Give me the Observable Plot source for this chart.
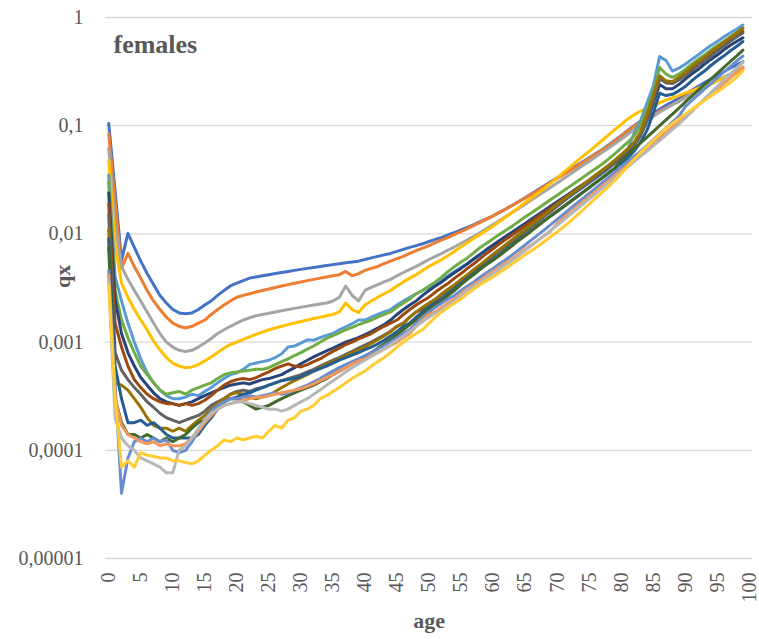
<!DOCTYPE html>
<html>
<head>
<meta charset="utf-8">
<script src="https://cdn.jsdelivr.net/npm/d3@7"></script>
<script src="https://cdn.jsdelivr.net/npm/@observablehq/plot@0.6"></script>
<style>
  html, body { margin: 0; padding: 0; background: #ffffff; }
  #chart { width: 759px; height: 639px; }
</style>
</head>
<body>
<div id="chart"></div>
<script>
// ---- data: qx by age (0..99) for 16 female life tables ----
const ages = d3.range(0, 100);

const seriesNames = ["series 1","series 2","series 3","series 4","series 5","series 6","series 7","series 8",
  "series 9","series 10","series 11","series 12","series 13","series 14","series 15","series 16"];

const seriesColors = ["#4472C4","#ED7D31","#A5A5A5","#FFC000","#5B9BD5","#70AD47","#264478","#9E480E",
  "#636363","#997300","#255E91","#43682B","#698ED0","#F1975A","#B7B7B7","#FFCD33"];

const s01 = [0.105,0.025,0.0057,0.0101,0.0075,0.0056,0.0043,0.0034,0.0027,0.0023,
  0.002,0.00186,0.00183,0.00186,0.002,0.0022,0.0024,0.0027,0.003,0.0033,
  0.0035,0.0037,0.0039,0.004,0.0041,0.0042,0.0043,0.0044,0.0045,0.0046,
  0.0047,0.0048,0.0049,0.005,0.0051,0.0052,0.0053,0.0054,0.0055,0.0056,
  0.0058,0.006,0.0062,0.0064,0.0066,0.0069,0.0072,0.0075,0.0078,0.0081,
  0.0085,0.0089,0.0093,0.0098,0.0103,0.0109,0.0115,0.0122,0.013,0.0138,
  0.0147,0.0158,0.017,0.0184,0.0199,0.0216,0.0235,0.0256,0.0279,0.0304,
  0.0331,0.036,0.0392,0.0427,0.0465,0.0506,0.055,0.06,0.066,0.073,
  0.081,0.09,0.1,0.11,0.12,0.131,0.142,0.154,0.166,0.178,
  0.195,0.212,0.23,0.25,0.27,0.292,0.315,0.34,0.365,0.39];

const s02 = [0.085,0.02,0.0048,0.0066,0.005,0.0039,0.003,0.0024,0.002,0.0017,
  0.0015,0.0014,0.00135,0.0014,0.0015,0.0016,0.0018,0.002,0.0022,0.0024,
  0.0026,0.0027,0.0028,0.0029,0.003,0.0031,0.0032,0.0033,0.0034,0.0035,
  0.0036,0.0037,0.0038,0.0039,0.004,0.0041,0.0042,0.0045,0.0041,0.0043,
  0.0046,0.0048,0.005,0.0053,0.0056,0.0059,0.0062,0.0066,0.007,0.0074,
  0.0078,0.0083,0.0088,0.0093,0.0099,0.0105,0.0112,0.012,0.0128,0.0137,
  0.0147,0.0158,0.017,0.0183,0.0198,0.0214,0.0232,0.0252,0.0274,0.0298,
  0.0325,0.0354,0.0386,0.042,0.0458,0.05,0.0546,0.0597,0.065,0.072,
  0.08,0.089,0.099,0.108,0.117,0.126,0.136,0.146,0.157,0.168,
  0.185,0.198,0.212,0.227,0.243,0.26,0.278,0.297,0.317,0.34];

const s03 = [0.062,0.012,0.005,0.0038,0.003,0.0024,0.0019,0.0015,0.0012,0.001,
  0.0009,0.00084,0.00082,0.00084,0.0009,0.00098,0.00108,0.0012,0.0013,0.0014,
  0.0015,0.0016,0.00168,0.00175,0.0018,0.00185,0.0019,0.00195,0.002,0.00205,
  0.0021,0.00215,0.0022,0.00225,0.0023,0.0024,0.0026,0.0033,0.0027,0.0024,
  0.003,0.0032,0.0034,0.0036,0.0038,0.0041,0.0044,0.0047,0.005,0.0054,
  0.0058,0.0062,0.0066,0.0071,0.0076,0.0082,0.0088,0.0095,0.0103,0.0112,
  0.0122,0.0133,0.0145,0.0158,0.0172,0.0188,0.0206,0.0225,0.0246,0.027,
  0.0296,0.0324,0.0355,0.039,0.0428,0.047,0.0515,0.0565,0.062,0.068,
  0.075,0.083,0.092,0.102,0.112,0.122,0.133,0.144,0.156,0.168,
  0.181,0.195,0.21,0.226,0.243,0.261,0.28,0.3,0.322,0.345];

const s04 = [0.048,0.008,0.0035,0.0026,0.002,0.0016,0.0013,0.00102,0.00085,0.00072,
  0.00064,0.0006,0.00058,0.00059,0.00062,0.00067,0.00073,0.0008,0.00088,0.00095,
  0.001,0.00106,0.00112,0.00118,0.00124,0.0013,0.00135,0.0014,0.00145,0.0015,
  0.00155,0.0016,0.00165,0.0017,0.00175,0.0018,0.0019,0.0023,0.002,0.00188,
  0.0022,0.0024,0.0026,0.0028,0.003,0.0033,0.0036,0.0039,0.0042,0.0046,
  0.005,0.0054,0.0058,0.0063,0.0069,0.0076,0.0083,0.0091,0.0099,0.0108,
  0.0118,0.013,0.0143,0.0158,0.0175,0.0194,0.0215,0.0238,0.0263,0.0295,
  0.033,0.037,0.0415,0.0465,0.052,0.058,0.065,0.073,0.082,0.092,
  0.103,0.115,0.126,0.136,0.145,0.154,0.163,0.172,0.181,0.19,
  0.2,0.21,0.221,0.233,0.246,0.26,0.275,0.29,0.306,0.33];

const s05 = [0.035,0.004,0.0024,0.0015,0.001,0.0007,0.00052,0.00042,0.00036,0.00032,
  0.0003,0.0003,0.00031,0.00033,0.00032,0.00035,0.00038,0.00042,0.00046,0.0005,
  0.00052,0.00056,0.00062,0.00064,0.00066,0.00068,0.00072,0.00078,0.0009,0.00092,
  0.00098,0.00105,0.00104,0.0011,0.00115,0.0012,0.0013,0.00138,0.00148,0.0016,
  0.0016,0.0017,0.0018,0.0019,0.002,0.0022,0.0024,0.0026,0.0028,0.003,
  0.0032,0.0035,0.0038,0.0041,0.0045,0.0049,0.0053,0.0058,0.0063,0.0069,
  0.0075,0.0082,0.009,0.0098,0.0107,0.0117,0.0128,0.014,0.0153,0.0168,
  0.0184,0.0202,0.0222,0.0244,0.0268,0.0295,0.0325,0.036,0.04,0.045,
  0.052,0.06,0.085,0.11,0.16,0.23,0.435,0.4,0.32,0.34,
  0.37,0.41,0.45,0.5,0.55,0.6,0.66,0.72,0.78,0.85];

const s06 = [0.03,0.003,0.0016,0.0011,0.0008,0.0006,0.0005,0.00042,0.00036,0.00033,
  0.00034,0.00035,0.00033,0.00036,0.00038,0.0004,0.00042,0.00046,0.0005,0.00052,
  0.00053,0.00054,0.00055,0.00056,0.00056,0.00058,0.00062,0.00066,0.0007,0.00075,
  0.0008,0.00086,0.00092,0.001,0.00108,0.00115,0.00122,0.0013,0.00137,0.00145,
  0.00152,0.0016,0.0017,0.0018,0.0019,0.0021,0.0023,0.0025,0.0028,0.003,
  0.0033,0.0036,0.004,0.0045,0.005,0.0055,0.006,0.0067,0.0075,0.0082,
  0.009,0.0099,0.0108,0.0118,0.013,0.0143,0.0157,0.0172,0.0189,0.0208,
  0.0228,0.025,0.0275,0.0302,0.0332,0.0365,0.04,0.044,0.049,0.055,
  0.062,0.07,0.08,0.1,0.14,0.2,0.345,0.3,0.28,0.3,
  0.33,0.37,0.41,0.45,0.5,0.55,0.6,0.66,0.72,0.78];

const s07 = [0.024,0.0025,0.0012,0.0008,0.0006,0.00047,0.0004,0.00034,0.0003,0.00028,
  0.00027,0.00026,0.00027,0.00028,0.0003,0.00032,0.00034,0.00036,0.00038,0.0004,
  0.00041,0.00042,0.00041,0.00043,0.00045,0.00046,0.00048,0.0005,0.00054,0.00058,
  0.00063,0.00068,0.00073,0.00078,0.00083,0.00088,0.00094,0.001,0.00105,0.0011,
  0.00117,0.00125,0.00135,0.00145,0.0016,0.0018,0.002,0.0022,0.0024,0.0027,
  0.003,0.0033,0.0036,0.004,0.0044,0.0048,0.0053,0.0059,0.0065,0.0072,
  0.0079,0.0087,0.0095,0.0104,0.0114,0.0125,0.0137,0.015,0.0165,0.0181,
  0.0198,0.0217,0.0238,0.0261,0.0286,0.0314,0.0345,0.038,0.042,0.047,
  0.053,0.06,0.069,0.083,0.11,0.16,0.24,0.22,0.22,0.24,
  0.27,0.3,0.33,0.37,0.41,0.45,0.5,0.55,0.6,0.65];

const s08 = [0.019,0.0015,0.0009,0.0006,0.00045,0.00038,0.00033,0.0003,0.00028,0.00027,
  0.00027,0.00026,0.00027,0.00026,0.00027,0.00029,0.00032,0.00036,0.0004,0.00043,
  0.00045,0.00046,0.00045,0.00047,0.0005,0.00053,0.00057,0.0006,0.00063,0.0006,
  0.00059,0.00062,0.00066,0.0007,0.00076,0.00082,0.00088,0.00095,0.001,0.00107,
  0.00113,0.0012,0.0013,0.0014,0.0015,0.0016,0.0018,0.002,0.0022,0.0024,
  0.0026,0.0029,0.0032,0.0035,0.0039,0.0043,0.0048,0.0053,0.0059,0.0066,
  0.0073,0.0081,0.0089,0.0098,0.0108,0.0119,0.0131,0.0144,0.0158,0.0174,
  0.0191,0.021,0.0231,0.0254,0.0279,0.0307,0.0338,0.0372,0.041,0.046,
  0.052,0.059,0.068,0.085,0.12,0.18,0.28,0.25,0.25,0.27,
  0.3,0.33,0.37,0.41,0.45,0.5,0.55,0.61,0.67,0.74];

const s09 = [0.015,0.0008,0.00055,0.00045,0.00038,0.00033,0.00028,0.00025,0.00022,0.0002,
  0.00019,0.00018,0.00019,0.0002,0.00021,0.00023,0.00026,0.00028,0.0003,0.00033,
  0.00035,0.00036,0.00035,0.00037,0.00038,0.0004,0.00042,0.00044,0.00046,0.00048,
  0.0005,0.00053,0.00056,0.0006,0.00064,0.00068,0.00072,0.00077,0.00082,0.00088,
  0.00094,0.001,0.00108,0.00116,0.00126,0.0014,0.0015,0.0017,0.0019,0.002,
  0.0022,0.0024,0.0027,0.003,0.0033,0.0037,0.0041,0.0045,0.005,0.0056,
  0.0062,0.0069,0.0076,0.0084,0.0094,0.0105,0.0117,0.013,0.0145,0.0161,
  0.018,0.02,0.0222,0.0246,0.0272,0.03,0.0332,0.0367,0.0405,0.045,
  0.05,0.056,0.065,0.08,0.11,0.17,0.27,0.25,0.245,0.265,
  0.29,0.32,0.36,0.4,0.44,0.49,0.54,0.6,0.66,0.72];

const s10 = [0.011,0.00042,0.0004,0.00036,0.0003,0.00025,0.0002,0.00017,0.00016,0.00016,
  0.00015,0.00016,0.00015,0.00017,0.00019,0.00021,0.00024,0.00027,0.0003,0.00033,
  0.00034,0.00033,0.00031,0.0003,0.00031,0.00032,0.00035,0.00038,0.00041,0.00044,
  0.00047,0.0005,0.00054,0.00058,0.00062,0.00066,0.0007,0.00075,0.0008,0.00085,
  0.0009,0.00097,0.00105,0.00114,0.00125,0.0014,0.0015,0.0017,0.0019,0.0021,
  0.0023,0.0025,0.0028,0.0031,0.0034,0.0038,0.0042,0.0047,0.0052,0.0058,
  0.0065,0.0072,0.008,0.0089,0.0099,0.011,0.0122,0.0135,0.015,0.0167,
  0.019,0.0208,0.0231,0.0256,0.0284,0.0315,0.035,0.0388,0.043,0.048,
  0.054,0.061,0.07,0.087,0.125,0.19,0.29,0.26,0.255,0.28,
  0.31,0.35,0.39,0.43,0.48,0.53,0.59,0.65,0.72,0.8];

const s11 = [0.009,0.0006,0.0003,0.00018,0.00018,0.00019,0.00017,0.00018,0.00016,0.00014,
  0.00013,0.00013,0.00013,0.00013,0.00014,0.00017,0.0002,0.00024,0.00028,0.0003,
  0.00031,0.00033,0.00034,0.00036,0.00038,0.0004,0.00042,0.00044,0.00045,0.00046,
  0.00048,0.00051,0.00054,0.00057,0.0006,0.00064,0.00068,0.00072,0.00076,0.0008,
  0.00085,0.0009,0.00096,0.00104,0.00114,0.00125,0.0014,0.0015,0.0017,0.0019,
  0.0021,0.0023,0.0025,0.0028,0.0031,0.0035,0.0039,0.0043,0.0048,0.0053,
  0.0058,0.0064,0.0071,0.0079,0.0088,0.0097,0.0108,0.012,0.0133,0.0147,
  0.0162,0.0179,0.0198,0.0219,0.0242,0.0268,0.0296,0.0328,0.0363,0.0402,
  0.045,0.05,0.058,0.07,0.09,0.13,0.2,0.19,0.195,0.21,
  0.23,0.26,0.29,0.32,0.36,0.4,0.44,0.49,0.54,0.6];

const s12 = [0.0075,0.0003,0.00018,0.00014,0.00014,0.00013,0.00014,0.00013,0.00012,0.00013,
  0.00012,0.00013,0.00014,0.00016,0.00018,0.00019,0.00022,0.00025,0.00028,0.0003,
  0.0003,0.00028,0.00026,0.00024,0.00025,0.00026,0.00028,0.0003,0.00032,0.00034,
  0.00036,0.00038,0.0004,0.00043,0.00046,0.0005,0.00054,0.00058,0.00063,0.00068,
  0.00074,0.0008,0.00088,0.00096,0.00106,0.00117,0.0013,0.00145,0.0016,0.0018,
  0.002,0.0022,0.0024,0.0027,0.003,0.0034,0.0038,0.0042,0.0047,0.0052,
  0.0057,0.0063,0.007,0.0078,0.0087,0.0096,0.0107,0.0119,0.0132,0.0146,
  0.0161,0.0178,0.0197,0.0218,0.0241,0.0267,0.0296,0.0328,0.0364,0.0404,
  0.048,0.054,0.061,0.069,0.078,0.088,0.1,0.113,0.128,0.145,
  0.165,0.187,0.212,0.24,0.27,0.305,0.345,0.39,0.44,0.5];

const s13 = [0.0046,0.0004,0.00004,0.000085,0.00012,0.00013,0.00012,0.00013,0.00012,0.000125,
  0.0001,0.000095,0.0001,0.00012,0.00015,0.00019,0.00023,0.00026,0.00028,0.0003,
  0.0003,0.00031,0.00032,0.00031,0.00032,0.00033,0.00034,0.00033,0.00034,0.00036,
  0.00038,0.0004,0.00043,0.00046,0.0005,0.00054,0.00058,0.00062,0.00066,0.0007,
  0.00075,0.0008,0.00086,0.00093,0.001,0.0011,0.0012,0.0013,0.0015,0.0017,
  0.0019,0.0021,0.0023,0.0025,0.0027,0.003,0.0033,0.0036,0.004,0.0044,
  0.0048,0.0053,0.0058,0.0064,0.0071,0.0079,0.0088,0.0098,0.0109,0.0122,
  0.0136,0.0152,0.017,0.019,0.0212,0.0237,0.0265,0.0296,0.0331,0.037,
  0.0413,0.046,0.052,0.058,0.065,0.074,0.084,0.095,0.108,0.122,
  0.15,0.17,0.193,0.218,0.246,0.277,0.312,0.35,0.395,0.44];

const s14 = [0.0042,0.0003,0.00017,0.00014,0.00013,0.00012,0.000115,0.00012,0.00011,0.000115,
  0.00011,0.00011,0.000115,0.00013,0.00015,0.00018,0.00021,0.00024,0.00026,0.00027,
  0.00028,0.00029,0.0003,0.00031,0.00031,0.00032,0.00033,0.00034,0.00035,0.00036,
  0.00037,0.00039,0.00041,0.00044,0.00047,0.0005,0.00054,0.00058,0.00063,0.00067,
  0.0007,0.00075,0.0008,0.00086,0.00093,0.001,0.0011,0.0012,0.0014,0.0016,
  0.0018,0.0019,0.0021,0.0023,0.0025,0.0028,0.0031,0.0034,0.0037,0.0041,
  0.0045,0.0049,0.0054,0.0059,0.0065,0.0072,0.0079,0.0087,0.0096,0.0106,
  0.0125,0.014,0.0157,0.0176,0.0197,0.022,0.0246,0.0275,0.0308,0.0345,
  0.0386,0.0432,0.0484,0.054,0.061,0.068,0.077,0.086,0.097,0.109,
  0.122,0.137,0.154,0.173,0.194,0.218,0.245,0.275,0.31,0.35];

const s15 = [0.0037,0.0002,0.00013,0.00011,0.0001,0.000085,0.00008,0.000075,0.00007,0.000062,
  0.000062,0.0001,0.00011,0.00013,0.00016,0.00019,0.00022,0.00024,0.00026,0.00027,
  0.00028,0.00028,0.00027,0.00026,0.00025,0.00024,0.00024,0.00023,0.00024,0.00026,
  0.00028,0.0003,0.00033,0.00036,0.0004,0.00044,0.00048,0.00053,0.00058,0.00063,
  0.00068,0.00074,0.0008,0.00087,0.00095,0.00104,0.00114,0.00126,0.0014,0.00155,
  0.0017,0.00185,0.002,0.0022,0.0024,0.0027,0.003,0.0033,0.0036,0.0039,
  0.0043,0.0047,0.0052,0.0057,0.0063,0.007,0.0078,0.0087,0.0097,0.0108,
  0.012,0.0134,0.015,0.0168,0.0188,0.021,0.0235,0.0263,0.0295,0.033,
  0.037,0.0415,0.0465,0.052,0.058,0.065,0.073,0.082,0.092,0.103,
  0.118,0.135,0.155,0.177,0.202,0.23,0.262,0.298,0.34,0.385];

const s16 = [0.0034,0.0003,0.00007,0.00008,0.00007,0.000095,0.00009,0.000088,0.000085,0.000085,
  0.00008,0.00008,0.000077,0.000075,0.00008,0.00009,0.0001,0.00011,0.000125,0.00012,
  0.00013,0.000125,0.00013,0.000135,0.00013,0.00015,0.00017,0.00016,0.00019,0.0002,
  0.00023,0.00024,0.00026,0.0003,0.00032,0.00035,0.00038,0.00042,0.00046,0.0005,
  0.00054,0.0006,0.00066,0.00072,0.0008,0.0009,0.001,0.0011,0.0012,0.0013,
  0.0015,0.0017,0.0019,0.0021,0.0023,0.0025,0.0028,0.0031,0.0034,0.0037,
  0.004,0.0044,0.0048,0.0053,0.0058,0.0064,0.007,0.0077,0.0085,0.0094,
  0.0104,0.0116,0.013,0.0147,0.0166,0.0188,0.0213,0.0241,0.0273,0.031,
  0.036,0.042,0.049,0.056,0.064,0.073,0.083,0.095,0.105,0.116,
  0.128,0.141,0.155,0.171,0.188,0.206,0.226,0.25,0.28,0.32];

const yTicks = [0.00001, 0.0001, 0.001, 0.01, 0.1, 1];
const yTickLabels = ["0,00001", "0,0001", "0,001", "0,01", "0,1", "1"];
const xTicks = [0,5,10,15,20,25,30,35,40,45,50,55,60,65,70,75,80,85,90,95,100];

const chartTitle = "females";
const xLabel = "age";
const yLabel = "qx";

// ---- build the long table ----
const allSeries = [s01,s02,s03,s04,s05,s06,s07,s08,s09,s10,s11,s12,s13,s14,s15,s16];
const table = allSeries.flatMap((vals, i) =>
  vals.map((qx, j) => ({age: ages[j], qx, series: seriesNames[i]})));

const serif = "'Liberation Serif', 'Times New Roman', Times, serif";
const textGray = "#595959";

const chart = Plot.plot({
  width: 759,
  height: 639,
  marginLeft: 105,
  marginRight: 7,
  marginTop: 17,
  marginBottom: 81,
  style: {fontFamily: serif, fontSize: "20px", color: textGray, background: "#ffffff", overflow: "visible"},
  x: {domain: [-0.5, 100.5], axis: null},
  y: {type: "log", domain: [0.00001, 1], axis: null},
  color: {domain: seriesNames, range: seriesColors},
  marks: [
    Plot.gridY(yTicks, {stroke: "#d9d9d9", strokeOpacity: 1, strokeWidth: 1.3}),
    Plot.axisY(yTicks, {
      label: null, tickSize: 0, tickPadding: 22, fontSize: 20, fill: textGray,
      tickFormat: d => yTickLabels[yTicks.indexOf(d)]
    }),
    Plot.axisX(xTicks, {
      label: null, tickSize: 0, tickPadding: 14, tickRotate: -90, fontSize: 20, fill: textGray
    }),
    Plot.line(table, {
      x: "age", y: "qx", z: "series", stroke: "series",
      strokeWidth: 3, strokeLinejoin: "round", strokeLinecap: "round", curve: "linear"
    }),
    Plot.text([chartTitle], {
      frameAnchor: "top-left", textAnchor: "start", lineAnchor: "middle",
      dx: 8, dy: 27, fontSize: 26, fontWeight: "bold", fill: textGray
    }),
    Plot.text([xLabel], {
      frameAnchor: "bottom", lineAnchor: "middle",
      dy: 62, fontSize: 22, fontWeight: "bold", fill: textGray
    }),
    Plot.text([yLabel], {
      frameAnchor: "left", lineAnchor: "middle", rotate: -90,
      dx: -43, fontSize: 22, fontWeight: "bold", fill: textGray
    })
  ]
});

document.getElementById("chart").appendChild(chart);
</script>
</body>
</html>
